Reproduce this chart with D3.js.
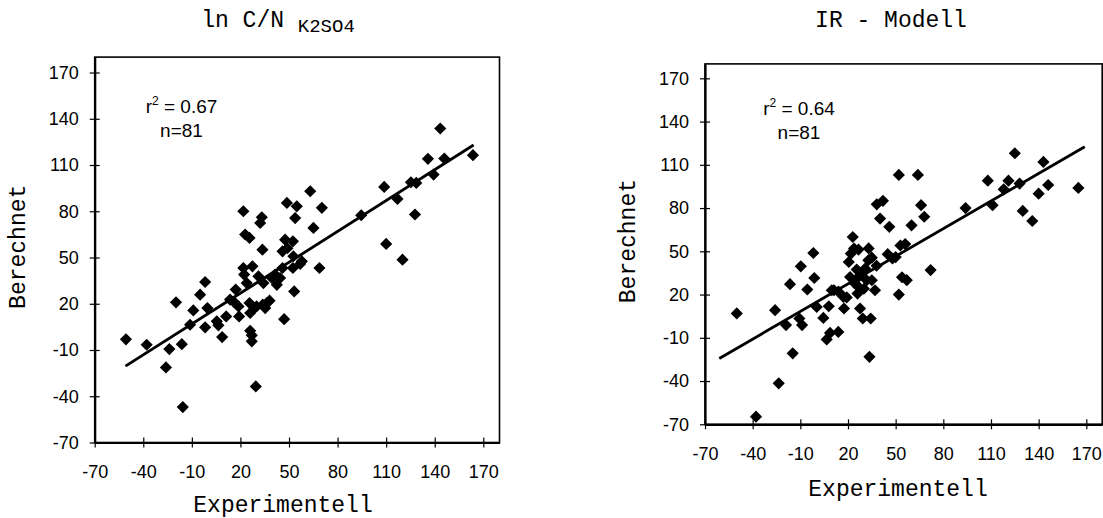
<!DOCTYPE html>
<html>
<head>
<meta charset="utf-8">
<script src="https://cdn.jsdelivr.net/npm/d3@7"></script>
<style>
  body { margin: 0; background: #fff; }
  svg { display: block; }
  .mono { font-family: "Liberation Mono", "Courier New", monospace; fill: #000; }
  .note { font-family: "Liberation Sans", Arial, sans-serif; font-size: 19px; fill: #000; }
</style>
</head>
<body>
<div id="chart"></div>
<script>
const SVG_WIDTH = 1103;
const SVG_HEIGHT = 518;
const DOMAIN = [-70, 180];
const TICKS = [-70, -40, -10, 20, 50, 80, 110, 140, 170];

// ln C/N K2SO4  (experimentell, berechnet)
const leftX = [-50.7, -37.9, -26, -23.9, -16.2, -15.6, -19.8, -9.1, -11.1, -4.9,
  -1.8, -1.8, -0.4, 5.4, 6.4, 8.7, 11.2, 13.6, 16.1, 17.1,
  19.2, 21.8, 22.3, 27.4, 23.9, 25.6, 26, 26, 27, 27,
  29.5, 28.5, 31.1, 33.6, 33.8, 35.3, 36.3, 34.2, 39.4, 41.4,
  42.5, 44.5, 46, 47, 46, 21.8, 33.2, 32.2, 22.9, 25.6,
  48.7, 47.6, 54.8, 53.8, 63.1, 70.3, 65.1, 52.4, 52.7, 52.4,
  57.9, 56.9, 68.8, 53.2, 94.6, 108.8, 117, 110, 120.1, 127.8,
  125.3, 128.6, 135.8, 139.3, 143.4, 145.9, 163.6, 18.8, 30, 38, 49];
const leftY = [-3.1, -6.6, -21.3, -9.4, -6.2, -47, 20.9, 15.7, 6.4, 25.9,
  34.1, 4.7, 17.2, 8.6, 6.0, -1.6, 11.8, 22.7, 21.1, 29.2,
  11.8, 43.2, 38.9, 44.3, 33.4, 20.5, 14, 2.5, -0.5, -4.4,
  -33.6, 17.2, 37.8, 55.1, 19.4, 17.2, 20.5, 33.4, 36.7, 38.9,
  32.3, 36.7, 54, 10, 43.2, 80, 76.1, 72.4, 64.9, 62.7,
  85.4, 61.6, 83.2, 75.6, 93, 82.2, 69.2, 60.5, 50.8, 43.2,
  47.5, 45.8, 43.2, 28, 77.4, 95.8, 88, 58.8, 48.6, 77.9,
  98.8, 98.4, 114, 103.8, 133.7, 114.2, 116.4, 18.3, 18.3, 22, 56];
const leftFitX = [-51, 164];
const leftFitY = [-20.5, 123];

// IR - Modell
const rightX = [-50, -37.9, -25.9, -23.6, -19, -16.5, -14.8, -10.6, -8.9, -9.7,
  -5.6, -1.8, -1.2, 0.3, 4.5, 6.6, 7.9, 8.7, 9.8, 11.2,
  13.9, 17.5, 17.1, 19.2, 21.3, 20.5, 21.8, 23, 23.8, 26.6,
  25.5, 26.6, 26.6, 26, 27.6, 29.3, 28.7, 30.8, 31.8, 32.8,
  33.5, 34.3, 35, 35, 37, 38.1, 40.2, 42, 46, 48,
  50, 52, 53, 54, 52, 56, 57, 60, 64, 66,
  68, 72, 94, 108, 111, 118, 121, 125, 128, 130,
  136, 140, 143, 146, 165, 24, 30, 38, 45, 14, 33];
const rightY = [6.9, -64.7, 9.2, -41.6, -1.2, 27.2, -20.8, 3.4, -1.2, 39.6,
  23.5, 48.8, 31.5, 11.4, 3.8, -11.1, 11.9, -6.6, 23, 23,
  -5.9, 10.3, 18.4, 18, 32.2, 42.6, 48.4, 59.9, 51.9, 51.2,
  37.3, 32.2, 25.3, 20.7, 10.3, 3.4, 34.6, 38, 29.9, 43.8,
  -23.2, 3.4, 29.9, 45.6, 23, 82.6, 72.7, 85, 67, 45,
  46, 103, 54, 32, 20, 55, 30, 68, 103, 82,
  74, 37, 80, 99, 82, 93, 99, 118, 97, 78,
  71, 90, 112, 96, 94, 28, 24, 40, 48, 22, 52];
const rightFitX = [-61, 169];
const rightFitY = [-24.3, 122.5];

const panels = [
  { title: "ln C/N ", sub: "K2SO4", r2: "0.67", n: "n=81", xs: leftX, ys: leftY, fx: leftFitX, fy: leftFitY,
    left: 94.7, right: 499.5, top: 57.1, bottom: 442.5,
    titleX: 278, labelX: 283, labelDy: 69, noteDx: 86.8, noteDy: 56 },
  { title: "IR - Modell", sub: "", r2: "0.64", n: "n=81", xs: rightX, ys: rightY, fx: rightFitX, fy: rightFitY,
    left: 705, right: 1102.2, top: 63.9, bottom: 424.3,
    titleX: 891, labelX: 898, labelDy: 72, noteDx: 94, noteDy: 51.5 }
];

const svg = d3.select("#chart").append("svg")
  .attr("width", SVG_WIDTH)
  .attr("height", SVG_HEIGHT);

const diamond = d3.symbol().type(d3.symbolSquare).size(74);

panels.forEach(p => {
  const x = d3.scaleLinear().domain(DOMAIN).range([p.left, p.right]);
  const y = d3.scaleLinear().domain(DOMAIN).range([p.bottom, p.top]);
  const g = svg.append("g");

  // frame
  g.append("rect")
    .attr("x", p.left).attr("y", p.top)
    .attr("width", p.right - p.left).attr("height", p.bottom - p.top)
    .attr("fill", "none").attr("stroke", "#000").attr("stroke-width", 1.6);

  const xAxis = g.append("g")
    .attr("transform", `translate(0,${p.bottom})`)
    .attr("font-family", "Liberation Sans, Arial, sans-serif")
    .call(d3.axisBottom(x).tickValues(TICKS).tickFormat(d => String(d))
      .tickSize(5).tickSizeOuter(0).tickPadding(18));
  xAxis.selectAll(".tick line").attr("y1", -5).attr("y2", 5).attr("stroke-width", 1.2);

  const yAxis = g.append("g")
    .attr("transform", `translate(${p.left},0)`)
    .attr("font-family", "Liberation Sans, Arial, sans-serif")
    .call(d3.axisLeft(y).tickValues(TICKS).tickFormat(d => String(d))
      .tickSize(5).tickSizeOuter(0).tickPadding(11));
  yAxis.selectAll(".tick line").attr("x1", -5).attr("x2", 5).attr("stroke-width", 1.2);

  [xAxis, yAxis].forEach(a => {
    a.attr("font-size", 18).attr("font-family", "Liberation Sans, Arial, sans-serif");
    a.select(".domain").attr("stroke-width", 2.2);
    a.selectAll(".tick text").attr("fill", "#000");
  });

  // title
  const t = svg.append("text").attr("class", "mono")
    .attr("x", p.titleX).attr("y", 26.5)
    .attr("text-anchor", "middle");
  t.append("tspan").style("font-size", "23px").text(p.title);
  if (p.sub) t.append("tspan").style("font-size", "19px").attr("dy", 5).text(p.sub);

  // axis labels
  svg.append("text").attr("class", "mono")
    .attr("x", p.labelX).attr("y", p.bottom + p.labelDy)
    .attr("text-anchor", "middle").style("font-size", "23px")
    .text("Experimentell");

  svg.append("text").attr("class", "mono")
    .attr("transform", `translate(${p.left - 70},${(p.top + p.bottom) / 2 - 3}) rotate(-90)`)
    .attr("text-anchor", "middle").style("font-size", "23px")
    .text("Berechnet");

  // r² and n
  const nx = p.left + p.noteDx;
  const r = svg.append("text").attr("class", "note")
    .attr("x", nx).attr("y", p.top + p.noteDy).attr("text-anchor", "middle");
  r.append("tspan").text("r");
  r.append("tspan").attr("dy", -8).style("font-size", "12px").text("2");
  r.append("tspan").attr("dy", 8).text(" = " + p.r2);
  svg.append("text").attr("class", "note")
    .attr("x", nx).attr("y", p.top + p.noteDy + 23.5).attr("text-anchor", "middle")
    .text(p.n);

  // points
  g.append("g").selectAll("path")
    .data(p.xs.map((v, i) => [v, p.ys[i]]))
    .join("path")
    .attr("d", diamond)
    .attr("transform", d => `translate(${x(d[0])},${y(d[1])}) rotate(45)`)
    .attr("fill", "#000");

  // fit line
  g.append("path")
    .datum(p.fx.map((v, i) => [v, p.fy[i]]))
    .attr("d", d3.line().x(d => x(d[0])).y(d => y(d[1])))
    .attr("fill", "none").attr("stroke", "#000").attr("stroke-width", 2.8);
});
</script>
</body>
</html>
